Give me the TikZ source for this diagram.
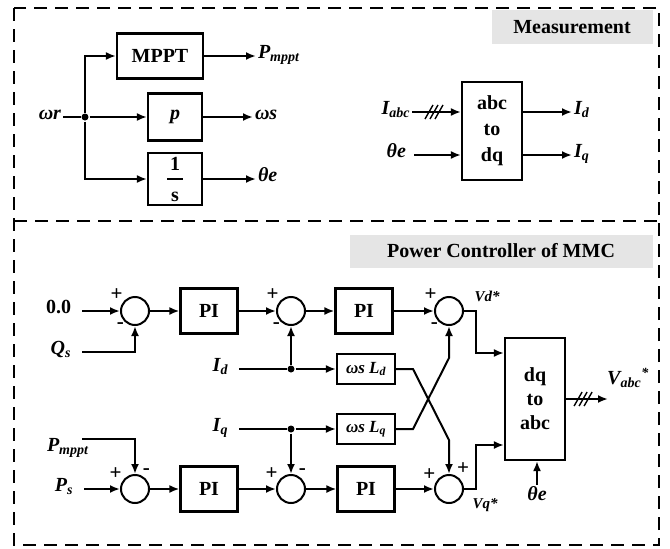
\documentclass[tikz,border=0pt]{standalone}
\usepackage{fontspec}
\setmainfont{Liberation Serif}
\usetikzlibrary{arrows.meta,positioning,calc}

\begin{document}
\begin{tikzpicture}[x=1pt, y=-1pt, line width=2pt, every node/.style={font=\fontsize{20}{24}\selectfont\bfseries}, blk/.style={draw, line width=2.2pt, minimum width=57pt, minimum height=45pt, inner sep=0pt, align=center}, gain/.style={blk, minimum width=58pt, minimum height=30pt, font=\fontsize{17}{20}\selectfont\bfseries\itshape}, sum/.style={circle, draw, minimum size=28pt, inner sep=0pt, label distance=1pt}, sgn/.style={font=\fontsize{21}{21}\selectfont\bfseries, inner sep=0pt}, lbl/.style={font=\fontsize{20}{24}\selectfont\bfseries\itshape, inner sep=1pt}, vlbl/.style={font=\fontsize{15}{18}\selectfont\bfseries\itshape, inner sep=1pt}, dot/.style={circle, fill, minimum size=7pt, inner sep=0pt}, tag/.style={fill=black!10, inner sep=0pt}, frame/.style={line width=2.6pt, dash pattern=on 13pt off 8pt}, arrow/.style={-{Latex[length=10pt,width=8pt]}}, src/.style={shorten <=9pt}, bus/.style={line width=1.4pt}]
\useasboundingbox (0,0) rectangle (670,549);
\draw[frame] (14,8) rectangle (659,545);
\draw[frame] (14,221) -- (659,221);

% measurement
\node[tag, minimum width=161pt, minimum height=34pt] (tm) at (572,27) {Measurement};
\node[lbl, anchor=mid east] (wr) at (63,117) {ωr};
\node[dot] (j0) at (85,117) {};
\node[blk, minimum width=86pt] (mppt) at (160,56) {MPPT};
\node[blk, minimum width=54pt, minimum height=47pt] (gp) at (175,117) {\itshape p};
\node[blk, minimum width=54pt, minimum height=52pt] (int) at (175,179) {1\\[-14pt]\rule{16pt}{2pt}\\[-3pt]s};
\node[lbl, anchor=mid west] (pmppt) at (256,56) {P\textsubscript{mppt}};
\node[lbl, anchor=mid west] (ws) at (253,117) {ωs};
\node[lbl, anchor=mid west] (th1) at (256,179) {θe};
\draw (wr.mid east) -- (j0);
\draw[arrow] (j0) |- (mppt);
\draw[arrow] (j0) -- (gp);
\draw[arrow] (j0) |- (int);
\draw[arrow] (mppt) -- (pmppt.mid west);
\draw[arrow] (gp) -- (ws.mid west);
\draw[arrow] (int) -- (th1.mid west);

\node[blk, minimum width=60pt, minimum height=98pt, font=\fontsize{20}{26}\selectfont\bfseries] (abc) at (492,131) {abc\\to\\dq};
\node[lbl, anchor=mid east] (iabc) at (412,112) {I\textsubscript{abc}};
\node[lbl, anchor=mid east] (th2) at (408,155) {θe};
\node[lbl, anchor=mid west] (id1) at (572,112) {I\textsubscript{d}};
\node[lbl, anchor=mid west] (iq1) at (572,155) {I\textsubscript{q}};
\draw[arrow] (iabc.mid east) -- (iabc.mid east -| abc.west);
\foreach \d in {-5,0,5} \draw[bus] ($(iabc.mid east)+(18+\d,7)$) -- ++(8,-14);
\draw[arrow, shorten <=6pt] (th2.mid east) -- (th2.mid east -| abc.west);
\draw[arrow] (abc.east |- id1.mid west) -- (id1.mid west);
\draw[arrow] (abc.east |- iq1.mid west) -- (iq1.mid west);

% power controller
\node[tag, minimum width=303pt, minimum height=33pt] (tp) at (501,251) {Power Controller of MMC};
\node[lbl, font=\fontsize{20}{24}\selectfont\bfseries, anchor=mid east] (ref0) at (73,311) {0.0};
\node[lbl, anchor=mid east] (qs) at (73,352) {Q\textsubscript{s}};
\node[sum, label={[sgn]140:+}, label={[sgn]228:-}] (s1) at (135,311) {};
\node[blk] (pi1) at (209,311) {PI};
\node[sum, label={[sgn]140:+}, label={[sgn]228:-}] (s2) at (291,311) {};
\node[blk] (pi2) at (364,311) {PI};
\node[sum, label={[sgn]140:+}, label={[sgn]228:-}] (s3) at (449,311) {};
\node[vlbl] (vd) at (487,296) {Vd*};

\node[lbl, anchor=mid east] (id2) at (230,369) {I\textsubscript{d}};
\node[dot] (jd) at (291,369) {};
\node[gain] (wld) at (366,369) {ωs L\textsubscript{d}};
\node[lbl, anchor=mid east] (iq2) at (230,429) {I\textsubscript{q}};
\node[dot] (jq) at (291,429) {};
\node[gain] (wlq) at (366,429) {ωs L\textsubscript{q}};

\node[lbl, anchor=mid west] (pm2) at (45,449) {P\textsubscript{mppt}};
\coordinate (pmk) at (82,439);
\node[lbl, anchor=mid east] (ps) at (75,489) {P\textsubscript{s}};
\node[sum, label={[sgn]146:+}, label={[sgn]63:-}] (s5) at (135,489) {};
\node[blk] (pi3) at (209,489) {PI};
\node[sum, label={[sgn]146:+}, label={[sgn]63:-}] (s6) at (291,489) {};
\node[blk] (pi4) at (366,489) {PI};
\node[sum, label={[sgn]148:+}, label={[sgn]62:+}] (s4) at (449,489) {};
\node[vlbl] (vq) at (485,505) {Vq*};

\node[blk, minimum width=60pt, minimum height=122pt] (dq) at (535,399) {dq\\to\\abc};
\node[lbl] (th3) at (537,494) {θe};
\node[lbl] (vabc) at (628,378) {V\textsubscript{abc}\textsuperscript{*}};
\coordinate (vout) at (608,399);
\coordinate (vdk) at (476,353);
\coordinate (vqk) at (476,445);

\draw[arrow, src] (ref0.mid east) -- (s1);
\draw[arrow, src] (qs.mid east) -| (s1);
\draw[arrow, src] (ps.mid east) -- (s5);
\draw[arrow] (pmk) -| (s5);
\foreach \x/\y in {s1/pi1,pi1/s2,s2/pi2,pi2/s3,s5/pi3,pi3/s6,s6/pi4,pi4/s4}{\draw[arrow] (\x)--(\y);}
\draw[src] (id2.mid east) -- (jd);
\draw[src] (iq2.mid east) -- (jq);
\draw[arrow] (jd) -- (wld);
\draw[arrow] (jq) -- (wlq);
\draw[arrow] (jd) -- (s2);
\draw[arrow] (jq) -- (s6);
\draw[arrow] (wld) -- (413,369) -- (449,440) -- (s4);
\draw[arrow] (wlq) -- (413,429) -- (449,358) -- (s3);
\draw[arrow] (s3) -| (vdk) -- (vdk -| dq.west);
\draw[arrow] (s4) -| (vqk) -- (vqk -| dq.west);
\draw[arrow] (th3) -- (th3 |- dq.south);
\draw[arrow] (dq) -- (vout);
\foreach \d in {-5,0,5} \draw[bus] ($(dq.east)+(13+\d,7)$) -- ++(8,-14);
\end{tikzpicture}
\end{document}
